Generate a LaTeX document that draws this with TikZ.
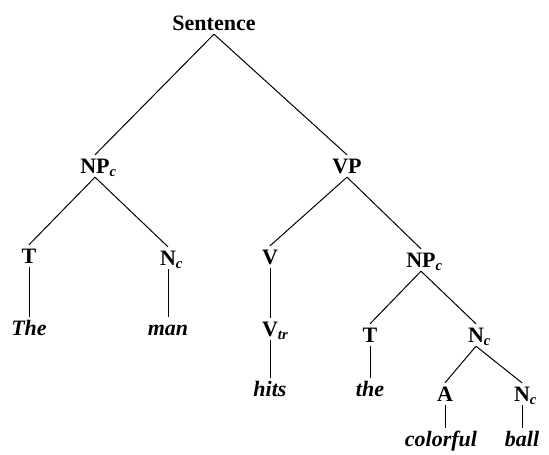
\documentclass[tikz,border=0pt]{standalone}
\usepackage{fontspec}
\setmainfont{Liberation Serif}
\usepackage{tikz}
\usetikzlibrary{calc}
\newcommand{\subsc}[1]{\rlap{\raisebox{-2pt}{\fontsize{11}{12}\selectfont\itshape #1}}}
\tikzset{lbl/.style={inner sep=2.5pt,font=\fontsize{16.5}{18}\selectfont\bfseries,text height=11pt,text depth=0pt},
    wrd/.style={inner sep=2.5pt,font=\fontsize{16.5}{18}\selectfont\bfseries\itshape,text height=11pt,text depth=3pt}}

\begin{document}
\begin{tikzpicture}[x=0.75pt,y=0.75pt,yscale=-1,xscale=1,line width=0.75pt]
%set diagram left start at 0, and has height of 454
\useasboundingbox (0,0) rectangle (549,454);

% Text Node
\node [lbl] (sent) at (214,23) {Sentence};
% Text Node
\node [lbl] (npa) at (95,166) {NP\subsc{c}};
\node [lbl] (vp) at (347,166) {VP};
% Text Node
\node [lbl] (ta) at (29,256) {T};
\node [lbl] (na) at (168,258) {N\subsc{c}};
\node [lbl] (v) at (270,257) {V};
\node [lbl] (npb) at (421,260) {NP\subsc{c}};
% Text Node
\node [wrd] (thea) at (29,330) {The};
\node [wrd] (man) at (168,330) {man};
\node [lbl] (vtr) at (270,329) {V\subsc{tr}};
\node [lbl] (tb) at (370,335) {T};
\node [lbl] (nb) at (476,335) {N\subsc{c}};
% Text Node
\node [wrd] (hits) at (270,391) {hits};
\node [wrd] (theb) at (370,391) {the};
\node [lbl] (a) at (445,394) {A};
\node [lbl] (nc) at (522,394) {N\subsc{c}};
% Text Node
\node [wrd] (colorful) at (441,441) {colorful};
\node [wrd] (ball) at (522,441) {ball};

%Straight Lines
\draw (sent.south) -- (npa.north) (sent.south) -- (vp.north) ;
\draw (npa.south) -- (ta.north) (npa.south) -- (na.north) ;
\draw (vp.south) -- (v.north) (vp.south) -- (npb.north) ;
\draw (ta.south) -- (thea.north) (na.south) -- (man.north) ;
\draw (v.south) -- (vtr.north) (vtr.south) -- (hits.north) ;
\draw (npb.south) -- (tb.north) (npb.south) -- (nb.north) ;
\draw (tb.south) -- (theb.north) ;
\draw (nb.south) -- (a.north) (nb.south) -- (nc.north) ;
\draw (a.south) -- (a.south |- colorful.north) (nc.south) -- (ball.north) ;

\end{tikzpicture}
\end{document}
